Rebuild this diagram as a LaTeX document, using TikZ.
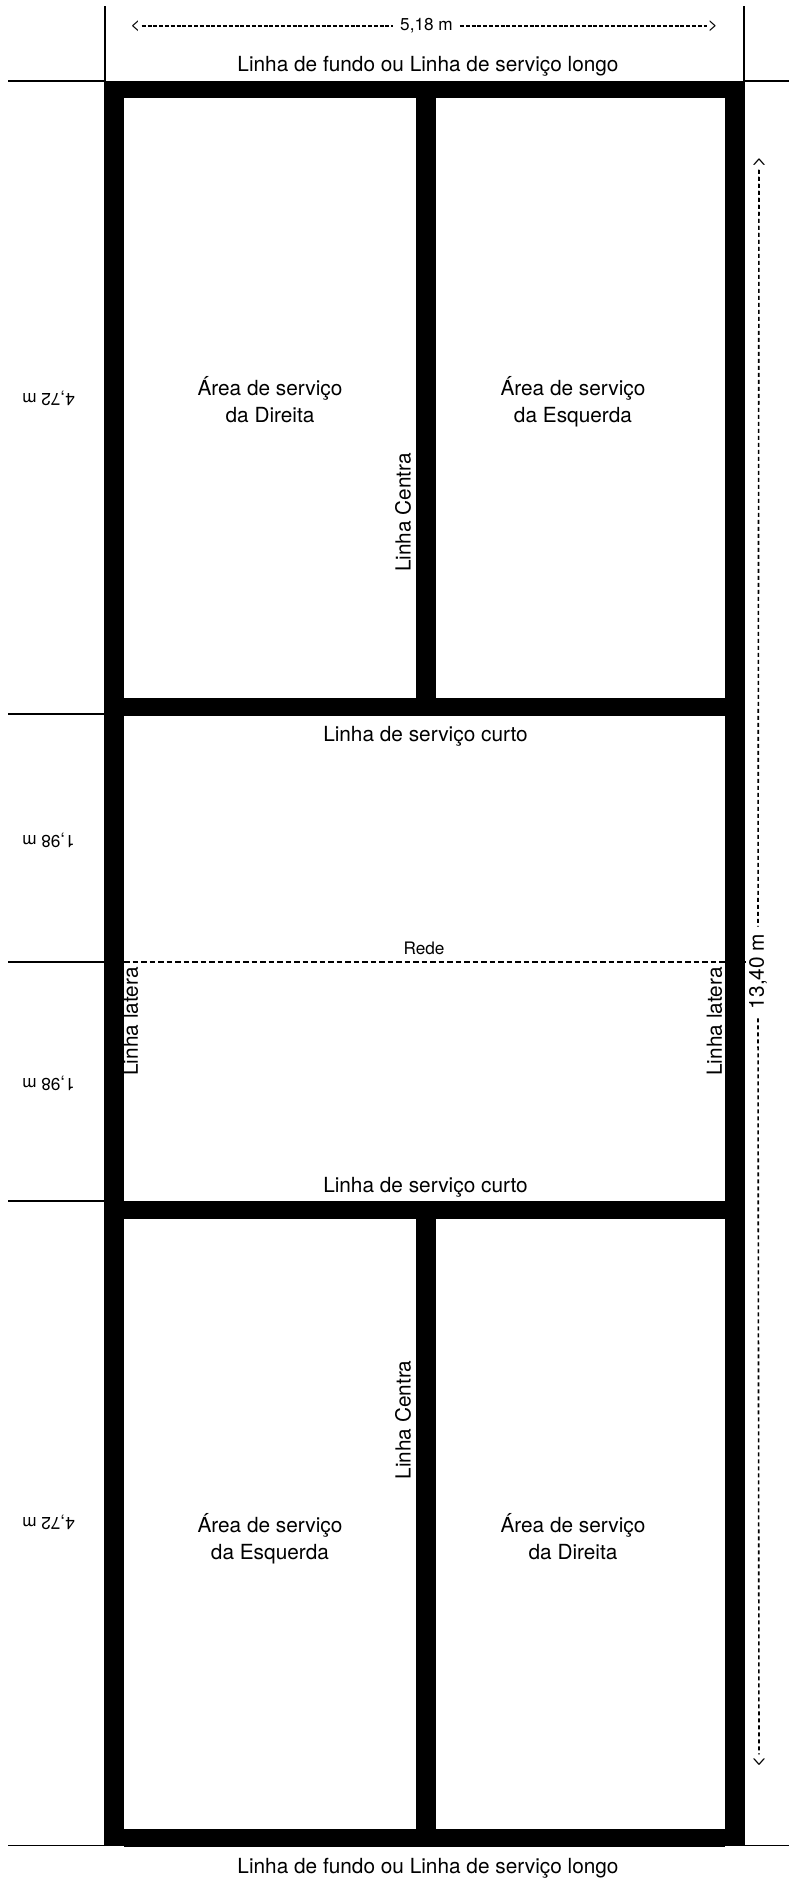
\documentclass[tikz,border=0pt]{standalone}
\usepackage{fontspec}
\setmainfont{TeX Gyre Heros}
\begin{document}
\begin{tikzpicture}[x=1pt,y=-1pt,
  lab/.style={inner sep=0pt,font=\fontsize{20.8}{27.6}\selectfont,align=center},
  sml/.style={inner sep=0pt,font=\fontsize{17.2}{20}\selectfont},
  up/.style={lab,rotate=90},
  headv/.style={inner sep=0pt,rotate=90,font=\fontsize{19}{20}\selectfont},
  flip/.style={sml,rotate=180},
  ink/.style={fill=black,draw=none},
  tick/.style={line width=1.5pt,black},
  dimh/.style={line width=1.2pt,dash pattern=on 4pt off 1.8pt,black},
  dimv/.style={line width=1.6pt,dash pattern=on 4.2pt off 2.8pt,black},
  netline/.style={line width=1.4pt,dash pattern=on 5.5pt off 3pt,black}]
\useasboundingbox (0,0) rectangle (789,1879);
\fill[white] (0,0) rectangle (789,1879);
% court
\fill[ink] (104,81) rectangle (124,1845.5);
\fill[ink] (725,81) rectangle (745,1845.5);
\fill[ink] (104,81) rectangle (745,97.5);
\fill[ink] (124,1829) rectangle (725,1846.5);
\fill[ink] (124,698) rectangle (725,716);
\fill[ink] (124,1201) rectangle (725,1219);
\fill[ink] (416,97) rectangle (436,698);
\fill[ink] (416,1219) rectangle (436,1829);
% reference lines
\coordinate (a1) at (105,6); \coordinate (a2) at (105,81);
\coordinate (b1) at (744,6); \coordinate (b2) at (744,81);
\draw[tick] (a1) -- (a2);
\draw[tick] (b1) -- (b2);
\coordinate (l1) at (8,81);   \coordinate (l1e) at (104,81);
\coordinate (l2) at (8,714);  \coordinate (l2e) at (104,714);
\coordinate (l3) at (8,962);  \coordinate (l3e) at (104,962);
\coordinate (l4) at (8,1201); \coordinate (l4e) at (104,1201);
\coordinate (l5) at (8,1845.5); \coordinate (l5e) at (104,1845.5);
\coordinate (r1) at (745,81); \coordinate (r1e) at (789,81);
\coordinate (r5) at (745,1845.5); \coordinate (r5e) at (789,1845.5);
\draw[tick] (l1) -- (l1e);
\draw[tick] (l2) -- (l2e);
\draw[tick] (l3) -- (l3e);
\draw[tick] (l4) -- (l4e);
\draw[tick] (l5) -- (l5e);
\draw[tick] (r1) -- (r1e);
\draw[tick] (r5) -- (r5e);
% net
\coordinate (n1) at (124,962); \coordinate (n2) at (746,962);
\draw[netline] (n1) -- (n2);
\node[sml] (rede) at (424,948.5) {Rede};
% width dimension
\node[sml] (w) at (426.5,26) {5,18 m};
\node[sml] (wl) at (135.5,26) {<};
\node[sml] (wr) at (713,26) {>};
\draw[dimh] (wl.east) ++(1,0) -- ([xshift=-7pt]w.west);
\draw[dimh] ([xshift=7pt]w.east) -- ([xshift=-1pt]wr.west);
% length dimension
\node[up] (h) at (758,971.5) {13,40 m};
\node[headv] (ht) at (759,162) {>};
\node[headv] (hb) at (759,1762) {<};
\draw[dimv] ([yshift=-2pt]ht.west) -- ([yshift=7pt]h.east);
\draw[dimv] ([yshift=-9pt]h.west) -- ([yshift=2pt]hb.east);
% labels
\node[lab] (top) at (428,66) {Linha de fundo ou Linha de serviço longo};
\node[lab] (bot) at (428,1868) {Linha de fundo ou Linha de serviço longo};
\node[lab] (c1) at (425.5,736.5) {Linha de serviço curto};
\node[lab] (c2) at (425.5,1187) {Linha de serviço curto};
\node[lab] (s1) at (270,403.4) {\strut Área de serviço\\\strut da Direita};
\node[lab] (s2) at (573,403.4) {\strut Área de serviço\\\strut da Esquerda};
\node[lab] (s3) at (270,1540.4) {\strut Área de serviço\\\strut da Esquerda};
\node[lab] (s4) at (573,1540.4) {\strut Área de serviço\\\strut da Direita};
\node[up] (lc1) at (403,512.5) {Linha Centra};
\node[up] (lc2) at (403,1420) {Linha Centra};
\node[up] (ll1) at (130.5,1021.5) {Linha latera};
\node[up] (ll2) at (714.5,1021.5) {Linha latera};
\node[flip] (d1) at (48.5,398) {4,72 m};
\node[flip] (d2) at (48.5,840) {1,98 m};
\node[flip] (d3) at (48.5,1083) {1,98 m};
\node[flip] (d4) at (48.5,1522) {4,72 m};
\end{tikzpicture}
\end{document}
